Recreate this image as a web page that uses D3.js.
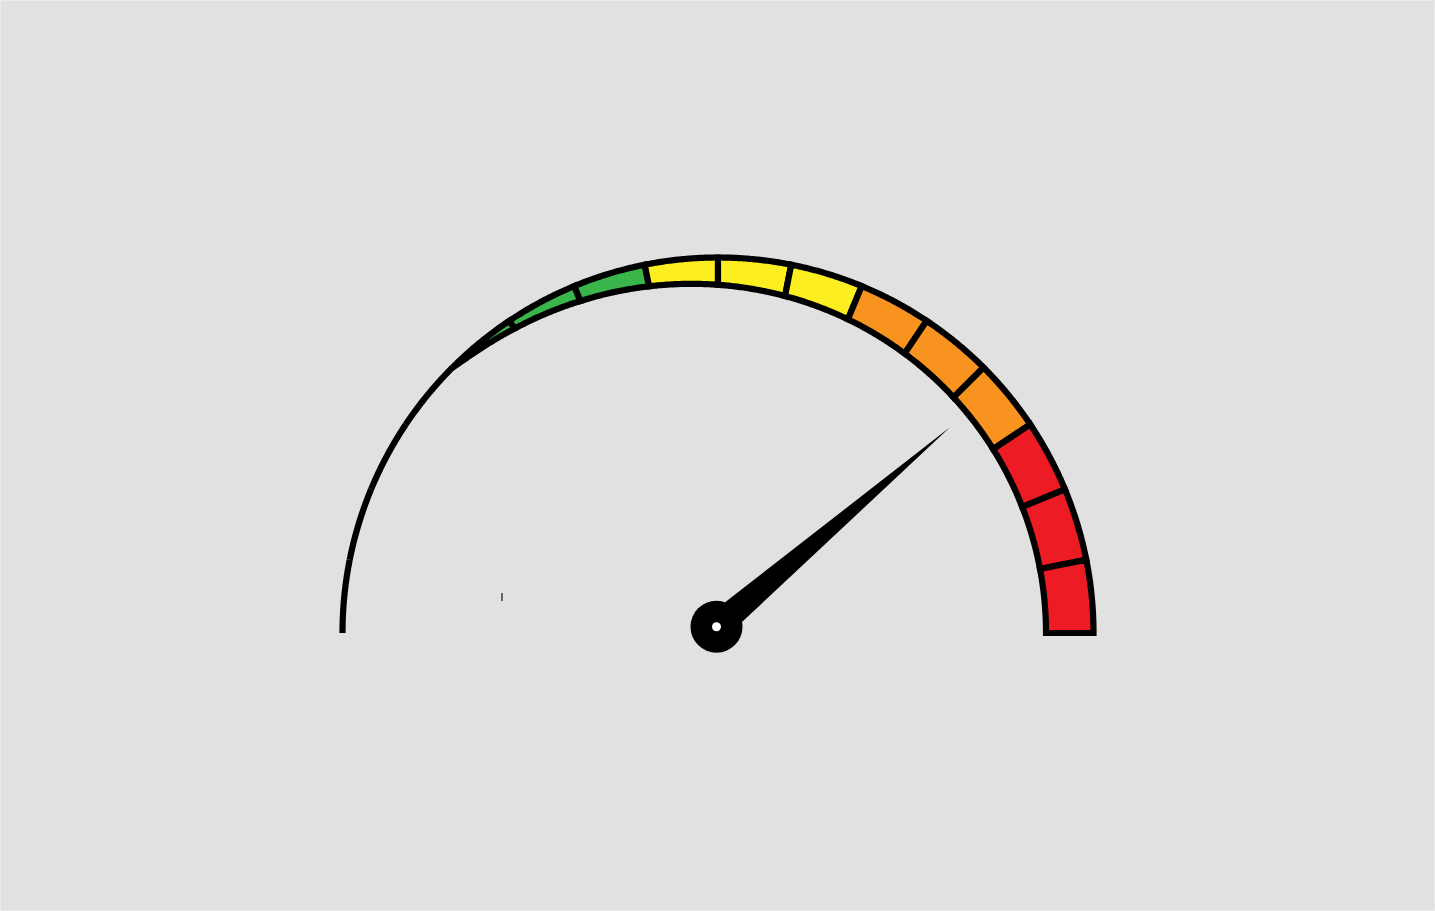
<!DOCTYPE html>
<html>
<head>
<meta charset="utf-8">
<script src="https://cdn.jsdelivr.net/npm/d3@7"></script>
<style>
  html, body { margin: 0; padding: 0; background: #e1e1e1; }
  svg { display: block; }
</style>
</head>
<body>
<div id="chart"></div>
<script>
// ---- data ----
const segmentBands = ["green","green","green","green","green","green","green",
                      "yellow","yellow","yellow",
                      "orange","orange","orange",
                      "red","red","red"];
const bandColors = { green: "#39b54a", yellow: "#fcee21", orange: "#f7931e", red: "#ed1c24" };
const gaugeDomain = [0, 100];
const needleValue = 77.5;

// ---- layout ----
const W = 1435, H = 911;
const cx = 718, cy = 633, R = 375.5, maxT = 47.5;
const hubX = 716.5, hubY = 626.7, hubR = 26, needleLen = 307, needleHalfW = 14;

const svg = d3.select("#chart").append("svg")
  .attr("width", W).attr("height", H);

svg.append("rect").attr("x", 0.5).attr("y", 0.5).attr("width", W - 1).attr("height", H - 1)
  .attr("fill", "#e1e1e1").attr("stroke", "#ebebeb").attr("stroke-width", 1);

const segAngle = d3.scaleLinear().domain([0, segmentBands.length]).range([-Math.PI / 2, Math.PI / 2]);
const valueAngle = d3.scaleLinear().domain(gaugeDomain).range([-Math.PI / 2, Math.PI / 2]);

// band thickness grows from zero at -45deg to maxT at +90deg
const thick = a => {
  const u = Math.max(0, (a + Math.PI / 4) / (3 * Math.PI / 4));
  return maxT * Math.pow(Math.sin(u * Math.PI / 2), 0.8);
};

const radial = d3.lineRadial().angle(d => d[0]).radius(d => d[1]).curve(d3.curveLinearClosed);

function segPath(i) {
  const a0 = segAngle(i), a1 = segAngle(i + 1), n = 40, pts = [];
  for (let k = 0; k <= n; k++) { const a = a0 + (a1 - a0) * k / n; pts.push([a, R]); }
  for (let k = n; k >= 0; k--) { const a = a0 + (a1 - a0) * k / n; pts.push([a, R - thick(a)]); }
  return radial(pts);
}

const g = svg.append("g").attr("transform", `translate(${cx},${cy})`);
g.selectAll("path.seg").data(segmentBands).join("path")
  .attr("class", "seg")
  .attr("d", (d, i) => segPath(i))
  .attr("fill", d => bandColors[d])
  .attr("stroke", "#000")
  .attr("stroke-width", 6.2)
  .attr("stroke-linejoin", "miter");

// small tick mark
svg.append("line").attr("x1", 502).attr("x2", 502).attr("y1", 593).attr("y2", 601)
  .attr("stroke", "#333").attr("stroke-width", 1.4);

// needle
const a = valueAngle(needleValue);
const tip = [hubX + needleLen * Math.sin(a), hubY - needleLen * Math.cos(a)];
const b1 = [hubX + needleHalfW * Math.cos(a), hubY + needleHalfW * Math.sin(a)];
const b2 = [hubX - needleHalfW * Math.cos(a), hubY - needleHalfW * Math.sin(a)];
svg.append("path").attr("d", d3.line()([b1, tip, b2]) + "Z").attr("fill", "#000");

svg.append("circle").attr("cx", hubX).attr("cy", hubY).attr("r", hubR).attr("fill", "#000");
svg.append("circle").attr("cx", hubX).attr("cy", hubY).attr("r", 4.5).attr("fill", "#fff");
</script>
</body>
</html>
